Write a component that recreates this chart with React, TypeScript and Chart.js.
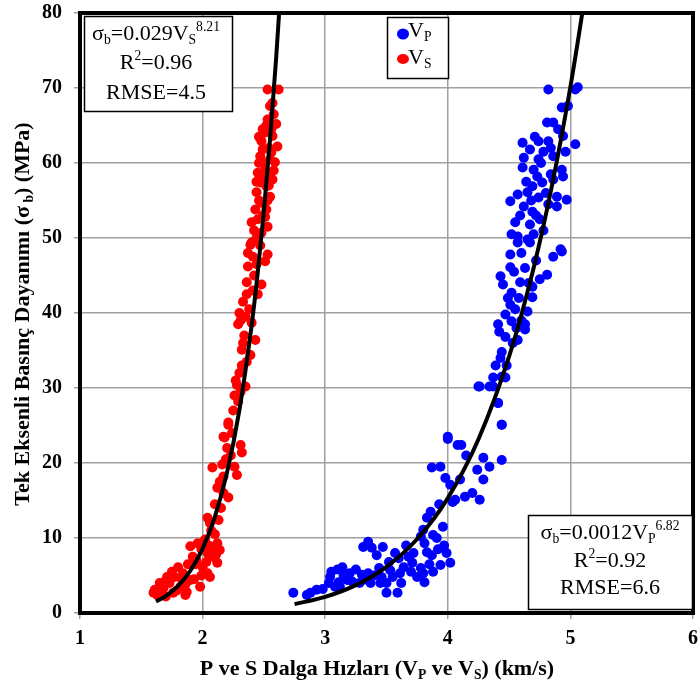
import React, { useEffect, useRef } from "react";
import { Chart, registerables } from "chart.js";

Chart.register(...registerables);

// ---- Data ----
const VS_X = [
  2.21, 2.18, 2.31, 2.32, 2.08, 2.16, 2.26, 2.17, 2.28, 2.12, 2.21, 2.04, 2.13, 1.9, 1.96, 2.12, 2.14, 2.04, 1.92, 2.08,
  2.12, 1.8, 2.0, 1.84, 2.04, 1.71, 1.77, 1.9, 1.65, 1.73, 1.82, 1.61, 1.87, 1.63, 1.76, 1.98, 2.06, 1.6, 1.86, 2.1,
  2.07, 1.94, 1.68, 1.79, 2.02, 2.15, 2.23,
  2.39, 2.53, 2.51, 2.37, 2.36, 2.48, 2.33, 2.3, 2.29, 2.4, 2.43, 2.32, 2.39, 2.3, 2.28, 2.35, 2.29, 2.21, 2.17, 2.42,
  2.45, 2.38, 2.34, 2.41,
  2.53, 2.62, 2.55, 2.53, 2.6, 2.48, 2.61, 2.47, 2.59, 2.45, 2.57, 2.44, 2.55, 2.43, 2.52, 2.4, 2.53, 2.4, 2.49, 2.57,
  2.51, 2.52, 2.48, 2.56, 2.49, 2.47, 2.45, 2.48, 2.58, 2.5,
  2.46, 2.54, 2.5, 2.55, 2.46, 2.51, 2.42, 2.47, 2.55, 2.52, 2.57, 2.44, 2.58, 2.53, 2.49, 2.44, 2.5, 2.56, 2.46, 2.54,
  2.36, 2.44, 2.31, 2.33, 2.36, 2.27, 2.31, 2.25, 2.26, 2.37, 2.35, 2.41, 2.32,
  2.2, 2.24, 2.14, 2.19, 2.1, 2.17, 2.06, 1.99, 2.05, 2.09, 1.95, 1.88, 1.83, 1.75, 1.69, 1.66, 1.7, 1.93, 1.99, 2.03,
  2.11, 1.86,
];
const VS_Y = [
  25.1, 23.4, 22.4, 21.4, 19.4, 19.8, 19.5, 18.2, 18.4, 16.7, 15.4, 12.7, 12.4, 8.9, 9.3, 9.3, 8.4, 8.0, 7.5, 7.5,
  6.7, 6.1, 6.1, 5.3, 5.3, 4.8, 4.8, 4.4, 4.0, 4.0, 3.5, 3.1, 2.8, 2.4, 2.7, 3.5, 4.8, 2.7, 2.4, 10.5,
  11.0, 6.5, 3.3, 3.0, 9.8, 14.0, 21.0,
  49.1, 47.8, 46.9, 46.2, 44.1, 43.8, 41.5, 40.0, 38.5, 38.7, 36.4, 35.1, 34.4, 32.0, 30.4, 30.2, 28.2, 25.4, 23.5, 45.0,
  42.5, 40.5, 37.0, 47.5,
  69.8, 69.8, 67.6, 65.8, 65.2, 62.9, 62.2, 60.9, 60.1, 58.7, 57.8, 56.1, 55.5, 53.8, 53.8, 52.1, 51.5, 49.4, 64.5, 63.6,
  59.1, 56.9, 54.7, 61.4, 61.8, 57.4, 52.5, 50.7, 66.5, 60.0,
  63.5, 62.0, 58.0, 58.5, 55.0, 52.8, 51.0, 49.0, 60.5, 65.0, 68.0, 57.5, 59.0, 55.0, 53.0, 50.0, 64.0, 64.5, 60.0, 57.0,
  42.5, 46.5, 39.0, 36.0, 33.5, 31.0, 29.5, 27.0, 29.0, 48.0, 39.5, 43.0, 33.0,
  22.0, 24.0, 17.5, 20.5, 14.5, 16.0, 12.0, 8.5, 9.0, 8.8, 7.0, 6.5, 4.5, 5.5, 4.2, 2.5, 2.2, 4.5, 5.0, 6.8,
  7.8, 3.8,
];

const VP_X = [
  4.0, 4.08, 3.87, 3.94, 3.98, 4.02, 4.06, 3.83, 3.8, 3.88, 3.91, 3.81, 3.83, 3.87, 3.99, 4.02, 3.94, 3.88, 3.8, 3.75,
  3.81, 3.72, 3.71, 3.64, 3.57, 3.61, 3.62, 3.55, 3.53, 3.5, 3.46, 3.47, 3.42, 3.35, 3.31, 3.38, 3.5, 3.45, 3.37, 3.35,
  3.3, 3.28, 3.2, 3.14, 3.18, 3.11, 3.04, 3.03, 3.08, 2.93, 2.88, 2.85, 2.74, 3.59, 3.31,
  4.26, 4.37, 4.41, 4.44, 4.44, 4.29, 4.34, 4.29, 4.26, 4.11, 4.04, 4.14, 4.1, 4.24,
  4.93, 4.86, 4.81, 4.75, 4.51, 4.67, 4.57, 4.43, 4.45, 4.51, 4.59, 4.52, 4.69, 4.69, 4.51, 4.65, 4.47, 4.41, 4.52, 4.63,
  4.63, 4.57, 4.47, 4.44, 4.43, 4.44, 4.37, 4.47, 4.25, 4.34, 4.41, 4.44, 4.0,
  4.82, 5.04, 5.06, 4.93, 4.98, 4.81, 4.86, 4.94, 4.61, 4.74, 4.82, 5.04, 4.67, 4.78, 4.62, 4.74, 4.86, 4.96, 4.61, 4.7,
  4.93, 4.73, 4.94, 4.77, 4.69, 4.86, 4.65, 4.57, 4.89, 4.97, 4.51, 4.74, 4.62, 4.82, 4.69, 4.89, 4.55, 4.67, 4.75, 4.57,
  4.65, 4.92,
  4.7, 4.72, 4.63, 4.58, 4.55, 4.66, 4.6, 4.54, 4.72, 4.78, 4.8, 4.84, 4.64, 4.76, 4.71, 4.84, 4.9, 4.68, 4.59, 4.52,
  4.49, 4.56, 4.48, 4.53, 4.6, 4.39, 4.42,
  3.05, 3.1, 3.15, 3.22, 3.25, 3.4, 3.44, 3.52, 3.6, 3.68, 3.7, 3.78, 3.85, 3.92, 3.97, 3.12, 2.98, 3.66, 3.78, 3.86,
  3.93, 3.96, 4.15, 4.2,
];
const VP_Y = [
  23.2, 22.4, 19.4, 19.5, 18.0, 17.1, 15.1, 12.7, 11.1, 10.4, 10.0, 9.3, 8.1, 7.7, 8.0, 6.7, 6.4, 5.5, 5.3, 4.8,
  4.1, 8.0, 6.7, 6.1, 8.0, 5.3, 4.0, 4.8, 5.7, 4.0, 4.8, 8.8, 7.7, 9.5, 8.8, 8.7, 2.7, 4.0, 4.0, 5.3,
  5.1, 4.0, 5.3, 6.1, 4.4, 4.1, 4.8, 4.0, 3.5, 3.1, 2.7, 2.4, 2.7, 2.7, 4.4,
  30.2, 30.2, 28.0, 25.1, 20.4, 20.7, 19.5, 17.8, 15.1, 22.4, 14.8, 15.5, 17.8, 19.1,
  48.2, 47.5, 45.1, 44.5, 47.8, 49.4, 49.4, 44.9, 43.8, 46.1, 44.1, 42.7, 43.5, 42.1, 41.1, 40.2, 39.8, 38.5, 38.9, 38.5,
  37.8, 36.4, 36.8, 34.8, 34.0, 31.5, 31.4, 31.4, 30.2, 30.2, 28.0, 25.1, 23.5,
  69.8, 69.8, 70.1, 67.4, 67.6, 65.4, 65.4, 63.6, 62.7, 62.9, 62.9, 62.5, 61.8, 61.5, 60.7, 60.5, 60.9, 61.5, 59.4, 59.1,
  59.1, 58.2, 58.2, 57.4, 56.9, 57.8, 56.1, 55.8, 55.5, 55.1, 54.9, 55.4, 54.2, 54.5, 53.5, 54.2, 52.1, 51.8, 52.5, 50.2,
  49.8, 48.5,
  50.5, 47.0, 46.0, 42.0, 40.5, 44.0, 48.0, 45.5, 53.0, 51.0, 56.0, 58.5, 57.5, 60.0, 63.5, 62.0, 64.5, 55.0, 53.0, 50.5,
  42.0, 38.0, 33.0, 36.0, 39.0, 33.0, 37.5,
  5.5, 5.8, 5.0, 4.2, 5.8, 5.0, 6.0, 6.8, 7.3, 7.5, 5.5, 6.0, 6.5, 8.5, 9.0, 3.5, 3.2, 9.0, 10.2, 13.5,
  14.5, 11.5, 21.0, 16.0,
];

// Fitted power laws shown on the chart: sigma_b = a * V^b
const VS_FIT_COEF = [0.029, 8.21];
const VP_FIT_COEF = [0.0012, 6.82];
const VS_FIT_X = [1.62, 1.7, 1.8, 1.9, 2.0, 2.1, 2.2, 2.3, 2.4, 2.45, 2.5, 2.55, 2.6, 2.65];
const VP_FIT_X = [2.75, 3.0, 3.25, 3.5, 3.75, 4.0, 4.25, 4.5, 4.7, 4.85, 5.0, 5.1, 5.15];

const X_TICKS = [1, 2, 3, 4, 5, 6];
const Y_TICKS = [0, 10, 20, 30, 40, 50, 60, 70, 80];

const SERIF = "'Liberation Serif', 'Times New Roman', serif";

type Seg = [string, "n" | "b" | "p"];

function richWidth(ctx: CanvasRenderingContext2D, segs: Seg[], size: number, weight: string) {
  let w = 0;
  for (const [t, m] of segs) {
    const s = m === "n" ? size : size * 0.62;
    ctx.font = `${weight} ${s}px ${SERIF}`;
    w += ctx.measureText(t).width;
  }
  return w;
}

function drawRich(
  ctx: CanvasRenderingContext2D,
  segs: Seg[],
  x: number,
  cy: number,
  size: number,
  weight: string,
  align: "center" | "left"
) {
  const total = richWidth(ctx, segs, size, weight);
  let cx = align === "center" ? x - total / 2 : x;
  const base = cy + size * 0.33;
  ctx.textAlign = "left";
  ctx.textBaseline = "alphabetic";
  ctx.fillStyle = "#000";
  for (const [t, m] of segs) {
    const s = m === "n" ? size : size * 0.62;
    ctx.font = `${weight} ${s}px ${SERIF}`;
    const y = m === "n" ? base : m === "b" ? base + size * 0.16 : base - size * 0.42;
    ctx.fillText(t, cx, y);
    cx += ctx.measureText(t).width;
  }
}

const overlayPlugin = {
  id: "overlay",
  afterDraw(chart: any) {
    const ctx: CanvasRenderingContext2D = chart.ctx;
    const { left, right, top, bottom } = chart.chartArea;
    ctx.save();
    // frame
    ctx.strokeStyle = "#000";
    ctx.lineWidth = 4;
    ctx.strokeRect(left, top, right - left, bottom - top);

    // top-left equation box
    ctx.fillStyle = "#fff";
    ctx.fillRect(84, 16, 148, 95);
    ctx.lineWidth = 1.5;
    ctx.strokeStyle = "#000";
    ctx.strokeRect(84.5, 16.5, 148, 95);
    drawRich(ctx, [["σ", "n"], ["b", "b"], ["=0.029V", "n"], ["S", "b"], ["8.21", "p"]], 156, 33, 22, "normal", "center");
    drawRich(ctx, [["R", "n"], ["2", "p"], ["=0.96", "n"]], 156, 62, 22, "normal", "center");
    drawRich(ctx, [["RMSE=4.5", "n"]], 156, 92, 22, "normal", "center");

    // bottom-right equation box
    ctx.fillStyle = "#fff";
    ctx.fillRect(528, 515, 164, 94);
    ctx.strokeStyle = "#000";
    ctx.lineWidth = 1.5;
    ctx.strokeRect(528.5, 515.5, 164, 94);
    drawRich(ctx, [["σ", "n"], ["b", "b"], ["=0.0012V", "n"], ["P", "b"], ["6.82", "p"]], 610, 532, 22, "normal", "center");
    drawRich(ctx, [["R", "n"], ["2", "p"], ["=0.92", "n"]], 610, 560, 22, "normal", "center");
    drawRich(ctx, [["RMSE=6.6", "n"]], 610, 587, 22, "normal", "center");

    // legend box
    ctx.fillStyle = "#fff";
    ctx.fillRect(387, 17, 61, 61);
    ctx.strokeStyle = "#000";
    ctx.lineWidth = 1.5;
    ctx.strokeRect(387.5, 17.5, 61, 61);
    ctx.fillStyle = "#0000ff";
    ctx.beginPath();
    ctx.ellipse(403, 34, 6, 5.5, 0, 0, Math.PI * 2);
    ctx.fill();
    ctx.fillStyle = "#ff0000";
    ctx.beginPath();
    ctx.ellipse(403, 59, 6, 5, 0, 0, Math.PI * 2);
    ctx.fill();
    drawRich(ctx, [["V", "n"], ["P", "b"]], 408, 30, 22, "normal", "left");
    drawRich(ctx, [["V", "n"], ["S", "b"]], 408, 57, 22, "normal", "left");

    // axis titles
    drawRich(
      ctx,
      [["P ve S Dalga Hızları (V", "n"], ["P", "b"], [" ve V", "n"], ["S", "b"], [") (km/s)", "n"]],
      377,
      668,
      22,
      "bold",
      "center"
    );
    ctx.save();
    ctx.translate(22, 314);
    ctx.rotate(-Math.PI / 2);
    drawRich(ctx, [["Tek Eksenli Basınç Dayanımı (σ", "n"], [" b", "b"], [") (MPa)", "n"]], 0, 0, 22, "bold", "center");
    ctx.restore();
    ctx.restore();
  },
};

export default function App() {
  const ref = useRef<HTMLCanvasElement | null>(null);

  useEffect(() => {
    document.body.style.margin = "0";
    const canvas = ref.current;
    if (!canvas) return;

    const vsPts = VS_X.map((x, i) => ({ x, y: VS_Y[i] }));
    const vpPts = VP_X.map((x, i) => ({ x, y: VP_Y[i] }));
    const vsFit = VS_FIT_X.map((x) => ({ x, y: VS_FIT_COEF[0] * Math.pow(x, VS_FIT_COEF[1]) }));
    const vpFit = VP_FIT_X.map((x) => ({ x, y: VP_FIT_COEF[0] * Math.pow(x, VP_FIT_COEF[1]) }));

    const tickFont = { family: SERIF, size: 20, weight: "bold" as const };

    const chart = new Chart(canvas, {
      type: "scatter",
      data: {
        datasets: [
          {
            label: "Vs fit",
            data: vsFit,
            showLine: true,
            borderColor: "#000",
            borderWidth: 4,
            pointRadius: 0,
            cubicInterpolationMode: "monotone",
            order: 0,
          },
          {
            label: "Vp fit",
            data: vpFit,
            showLine: true,
            borderColor: "#000",
            borderWidth: 4,
            pointRadius: 0,
            cubicInterpolationMode: "monotone",
            order: 0,
          },
          {
            label: "VP",
            data: vpPts,
            backgroundColor: "#0000ff",
            borderWidth: 0,
            pointRadius: 5,
            order: 1,
          },
          {
            label: "VS",
            data: vsPts,
            backgroundColor: "#ff0000",
            borderWidth: 0,
            pointRadius: 5,
            order: 1,
          },
        ],
      },
      options: {
        responsive: false,
        animation: false,
        events: [],
        layout: { padding: { top: 13, right: 5, left: 0, bottom: 0 } },
        plugins: {
          legend: { display: false },
          tooltip: { enabled: false },
          title: { display: false },
        },
        scales: {
          x: {
            type: "linear",
            min: 1,
            max: 6,
            afterBuildTicks: (s: any) => {
              s.ticks = X_TICKS.map((v) => ({ value: v }));
            },
            afterFit: (s: any) => {
              s.height = 74;
              s.paddingLeft = 0;
              s.paddingRight = 0;
            },
            ticks: { font: tickFont, color: "#000", padding: 8 },
            grid: { color: "#a0a0a0", lineWidth: 1.5, tickLength: 6, tickColor: "#a0a0a0" },
            border: { display: false },
          },
          y: {
            type: "linear",
            min: 0,
            max: 80,
            afterBuildTicks: (s: any) => {
              s.ticks = Y_TICKS.map((v) => ({ value: v }));
            },
            afterFit: (s: any) => {
              s.width = 80;
              s.paddingTop = 0;
              s.paddingBottom = 0;
            },
            ticks: { font: tickFont, color: "#000", padding: 12 },
            grid: { color: "#a0a0a0", lineWidth: 1.5, tickLength: 6, tickColor: "#a0a0a0" },
            border: { display: false },
          },
        },
      },
      plugins: [overlayPlugin],
    } as any);

    return () => chart.destroy();
  }, []);

  return (
    <div style={{ width: 698, height: 687 }}>
      <canvas ref={ref} width={698} height={687} style={{ width: 698, height: 687, display: "block" }} />
    </div>
  );
}
